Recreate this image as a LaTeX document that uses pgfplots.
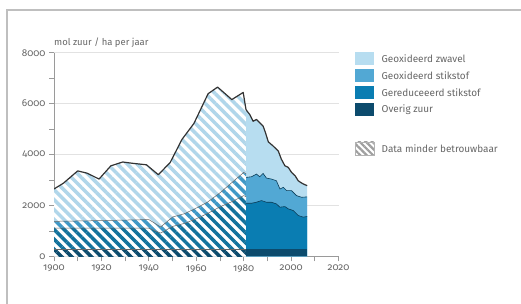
\documentclass[border=0pt]{standalone}
\usepackage{fontspec}
\setmainfont{Fira Sans}[Numbers=OldStyle]
\usepackage{pgfplots}
\pgfplotsset{compat=1.18}
\usetikzlibrary{patterns.meta}
\definecolor{zw}{HTML}{B7DDF0}
\definecolor{zwh}{HTML}{B0D6EA}
\definecolor{gs}{HTML}{52A8D4}
\definecolor{gsh}{HTML}{3F98C6}
\definecolor{gr}{HTML}{0A7DB2}
\definecolor{grh}{HTML}{12729C}
\definecolor{ov}{HTML}{0C4B6D}
\definecolor{txt}{HTML}{666666}
\definecolor{axc}{HTML}{9A9A9A}
\definecolor{grd}{HTML}{E2E2E2}
\tikzset{hatch/.style={fill=white, postaction={pattern={Lines[angle=-45,distance=7bp,line width=3.5bp]}, pattern color=#1}}}
\begin{document}
\begin{tikzpicture}
\useasboundingbox (0bp,0bp) rectangle (521bp,304bp);
\draw[color=gray!50, line width=1.2bp] (7bp,0bp) -- (7bp,294bp) -- (521bp,294bp);
\begin{axis}[at={(54bp,47.5bp)}, anchor=south west, scale only axis,
 width=284.5bp, height=203.8bp,
 xmin=1900, xmax=2020, ymin=0, ymax=8000,
 axis x line*=bottom, axis y line*=left,
 axis line style={axc, line width=0.8bp, -},
 xtick={1900,1920,...,2020}, minor xtick={1910,1930,...,2010},
 ytick={0,2000,...,8000}, minor ytick={1000,3000,5000,7000},
 tick align=outside, major tick length=5bp, minor tick length=5bp,
 tick style={axc, line width=0.7bp},
 ymajorgrids, grid style={grd, line width=0.8bp},
 ticklabel style={font=\fontsize{10}{12}\selectfont, text=txt},
 /pgf/number format/assume math mode=true, /pgf/number format/1000 sep={},
]
% --- total (Geoxideerd zwavel on top) ---
\addplot[draw=none, hatch=zwh] coordinates {
(1900,2650) (1904,2880) (1910,3360) (1914,3270) (1919,3040) (1924,3560) (1929,3710)
(1933,3660) (1939,3600) (1944,3210) (1949,3690) (1954,4600) (1959,5220) (1965,6390)
(1969,6650) (1975,6160) (1979.8,6440) (1981,5760)} \closedcycle;
\addplot[draw=none, fill=zw] coordinates {
(1981,5760) (1982.6,5570) (1984,5310) (1985.4,5380) (1986.8,5250) (1988.2,5120)
(1989.2,4860) (1990.4,4500) (1992.4,4340) (1994.6,4140) (1995.9,3820) (1997.4,3560)
(1998.8,3500) (2000.2,3300) (2001.7,3170) (2003,2975) (2004,2910) (2005.2,2845) (2006.8,2780)} \closedcycle;
% --- Geoxideerd stikstof (cumulative) ---
\addplot[draw=none, hatch=gsh] coordinates {
(1900,1380) (1920,1410) (1940,1450) (1945,1160) (1950,1550) (1955,1680) (1960,1900)
(1965,2150) (1970,2500) (1975,2900) (1980,3300) (1981,3250)} \closedcycle;
\addplot[draw=none, fill=gs] coordinates {
(1981,3105) (1983.3,3130) (1985.4,3235) (1986.8,3130) (1988.2,3260) (1989.6,3080)
(1991.7,3040) (1993.8,2975) (1995.3,2650) (1996.7,2715) (1998.1,2585) (2000.2,2585)
(2002.3,2390) (2004.4,2325) (2006.8,2340)} \closedcycle;
% --- Gereduceerd stikstof (cumulative) ---
\addplot[draw=none, hatch=grh] coordinates {
(1900,1110) (1940,1110) (1945,920) (1950,1180) (1955,1300) (1960,1480) (1965,1700)
(1970,1950) (1975,2150) (1980,2390) (1981,2350)} \closedcycle;
\addplot[draw=none, fill=gr] coordinates {
(1981,2090) (1983.3,2090) (1985.4,2130) (1987.5,2195) (1989.6,2130) (1991.7,2130)
(1993.8,2065) (1995.3,1935) (1997.4,1960) (1998.8,1870) (2000.9,1805) (2003,1610)
(2005.1,1545) (2006.8,1570)} \closedcycle;
% --- Overig zuur ---
\addplot[draw=none, hatch=ov] coordinates {(1900,280) (1981,280)} \closedcycle;
\addplot[draw=none, fill=ov] coordinates {(1981,290) (2006.8,290)} \closedcycle;
% --- boundary lines ---
\addplot[color=gray!80!black, line width=0.5bp] coordinates {
(1900,1380) (1920,1410) (1940,1450) (1945,1160) (1950,1550) (1955,1680) (1960,1900)
(1965,2150) (1970,2500) (1975,2900) (1980,3300) (1981,3250)};
\addplot[color=gray!80!black, line width=0.5bp] coordinates {
(1900,1110) (1940,1110) (1945,920) (1950,1180) (1955,1300) (1960,1480) (1965,1700)
(1970,1950) (1975,2150) (1980,2390) (1981,2350)};
\addplot[color=gray!80!black, line width=0.5bp] coordinates {(1900,280) (1981,280)};
\addplot[color=ov!80!black, line width=0.6bp] coordinates {
(1981,3105) (1983.3,3130) (1985.4,3235) (1986.8,3130) (1988.2,3260) (1989.6,3080)
(1991.7,3040) (1993.8,2975) (1995.3,2650) (1996.7,2715) (1998.1,2585) (2000.2,2585)
(2002.3,2390) (2004.4,2325) (2006.8,2340)};
\addplot[color=ov!80!black, line width=0.6bp] coordinates {
(1981,2090) (1983.3,2090) (1985.4,2130) (1987.5,2195) (1989.6,2130) (1991.7,2130)
(1993.8,2065) (1995.3,1935) (1997.4,1960) (1998.8,1870) (2000.9,1805) (2003,1610)
(2005.1,1545) (2006.8,1570)};
% --- total outline ---
\addplot[color=black!80, line width=1.2bp, line join=round] coordinates {
(1900,2650) (1904,2880) (1910,3360) (1914,3270) (1919,3040) (1924,3560) (1929,3710)
(1933,3660) (1939,3600) (1944,3210) (1949,3690) (1954,4600) (1959,5220) (1965,6390)
(1969,6650) (1975,6160) (1979.8,6440) (1981,5760)
(1982.6,5570) (1984,5310) (1985.4,5380) (1986.8,5250) (1988.2,5120)
(1989.2,4860) (1990.4,4500) (1992.4,4340) (1994.6,4140) (1995.9,3820) (1997.4,3560)
(1998.8,3500) (2000.2,3300) (2001.7,3170) (2003,2975) (2004,2910) (2005.2,2845) (2006.8,2780)};
\end{axis}
% axis title
\node[anchor=base west, inner sep=0, text=txt, font=\fontsize{9.5}{11}\selectfont] at (54bp,258bp) {mol zuur / ha per jaar};
% legend
\begin{scope}[font=\fontsize{10}{12}\selectfont]
\fill[zw] (355bp,239.2bp) rectangle (374bp,252.2bp);
\fill[gs] (355bp,221.8bp) rectangle (374bp,234.8bp);
\fill[gr] (355bp,205.2bp) rectangle (374bp,218.2bp);
\fill[ov] (355bp,187.5bp) rectangle (374bp,200.5bp);
\node[anchor=west, inner sep=0, text=txt] at (381.5bp,245.7bp) {Geoxideerd zwavel};
\node[anchor=west, inner sep=0, text=txt] at (381.5bp,228.3bp) {Geoxideerd stikstof};
\node[anchor=west, inner sep=0, text=txt] at (381.5bp,211.7bp) {Gereduceeerd stikstof};
\node[anchor=west, inner sep=0, text=txt] at (381.5bp,194.0bp) {Overig zuur};
\fill[white] (355bp,149.2bp) rectangle (374bp,162.2bp);
\fill[pattern={Lines[angle=-45,distance=4.5bp,line width=2.2bp]}, pattern color=gray!75] (355bp,149.2bp) rectangle (374bp,162.2bp);
\draw[gray!60, line width=0.5bp] (355bp,149.2bp) rectangle (374bp,162.2bp);
\node[anchor=west, inner sep=0, text=txt] at (381.5bp,155.7bp) {Data minder betrouwbaar};
\end{scope}
\end{tikzpicture}
\end{document}
